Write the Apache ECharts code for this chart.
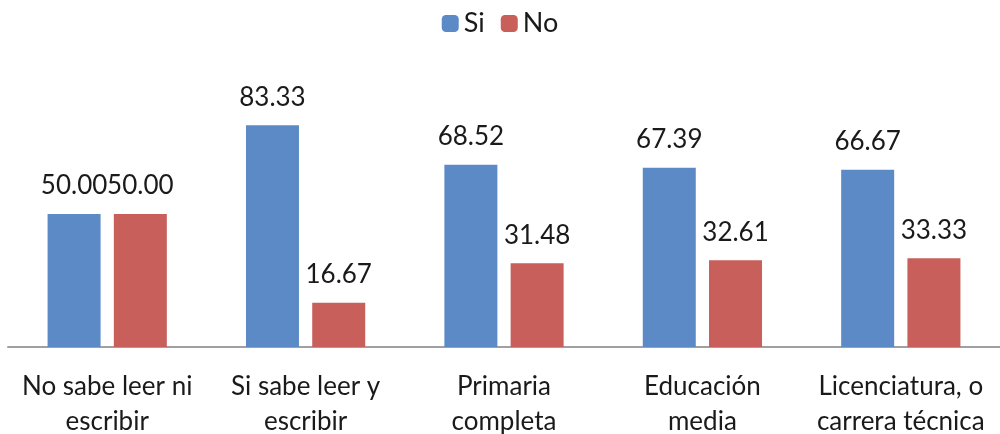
<!DOCTYPE html>
<html><head><meta charset="utf-8">
<script src="https://cdn.jsdelivr.net/npm/echarts@6/dist/echarts.min.js"></script>
<style>html,body{margin:0;padding:0;background:#fff}#c{width:1000px;height:434px}</style>
</head><body><div id="c"></div>
<script>
const categories = ["No sabe leer ni\nescribir", "Si sabe leer y\nescribir", "Primaria\ncompleta", "Educación\nmedia", "Licenciatura, o\ncarrera técnica"];
const siValues = [50.00, 83.33, 68.52, 67.39, 66.67];
const noValues = [50.00, 16.67, 31.48, 32.61, 33.33];
const seriesNames = ["Si", "No"];

const chart = echarts.init(document.getElementById('c'), null, {renderer: 'canvas'});
const font = 'Lato, "Open Sans", sans-serif';
const lbl = {show: true, position: 'top', distance: 15, color: '#1a1a1a', fontSize: 26, fontFamily: font,
  formatter: p => p.value.toFixed(2)};
chart.setOption({
  animation: false,
  legend: {top: 5, left: 'center', itemWidth: 17, itemHeight: 17, itemGap: 16,
    textStyle: {fontSize: 27, color: '#1a1a1a', fontFamily: font}, data: seriesNames},
  grid: {left: 8, right: 0, top: 81, bottom: 87, containLabel: false, outerBoundsMode: 'none'},
  xAxis: {type: 'category', data: categories,
    axisLine: {lineStyle: {color: '#a0a0a0', width: 2}},
    axisTick: {show: false},
    axisLabel: {margin: 22, fontSize: 26, lineHeight: 35, color: '#1a1a1a', fontFamily: font, interval: 0}},
  yAxis: {type: 'value', min: 0, max: 100, show: false, splitLine: {show: false}},
  series: [
    {name: seriesNames[0], type: 'bar', data: siValues, barWidth: 53, barGap: '25%',
      itemStyle: {color: '#5B8AC6'}, label: lbl},
    {name: seriesNames[1], type: 'bar', data: noValues, barWidth: 53,
      itemStyle: {color: '#C85F5B'}, label: lbl}
  ]
});
</script></body></html>
